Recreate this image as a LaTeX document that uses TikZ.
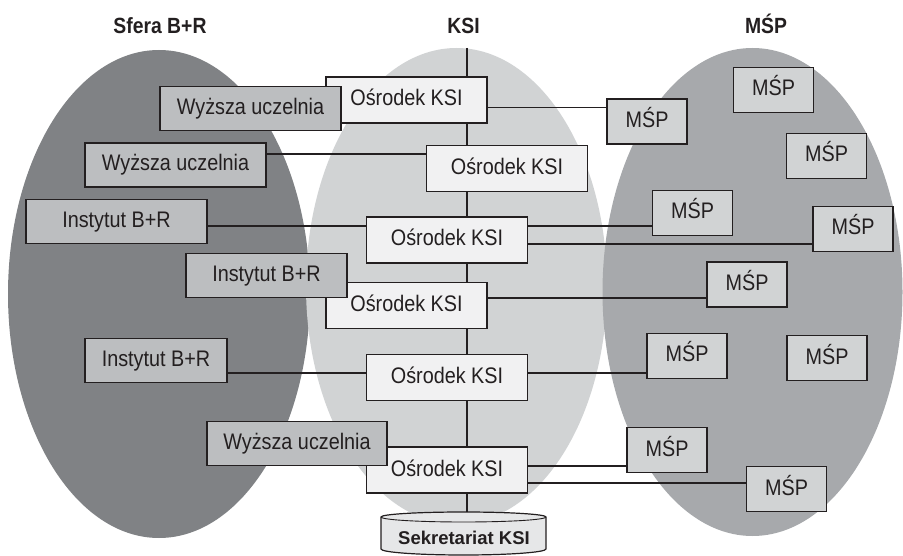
\documentclass[tikz,border=0pt]{standalone}
\usepackage{fontspec}
\setmainfont{Liberation Sans}
\newfontfamily\narrowfont[FakeStretch=0.88]{Liberation Sans}
\newcommand\cellfont{\narrowfont\fontsize{22.5}{27}\selectfont}
\newcommand\headfont{\narrowfont\bfseries\fontsize{22}{26}\selectfont}

\definecolor{linec}{HTML}{231F20}
\definecolor{brarea}{HTML}{808285}
\definecolor{ksiarea}{HTML}{D1D3D4}
\definecolor{msparea}{HTML}{A7A9AC}
\definecolor{brfill}{HTML}{BCBEC0}
\definecolor{mspfill}{HTML}{D1D3D4}
\definecolor{ksifill}{HTML}{F1F1F2}
\definecolor{cylfill}{HTML}{E6E7E8}

\tikzset{
  cell/.style={draw=linec, line width=1.2pt, rectangle, inner sep=0pt,
    text height=16pt, text depth=4pt, font=\cellfont, text=linec},
  ksibox/.style={cell, fill=ksifill, minimum width=161pt, minimum height=46pt},
  brbox/.style={cell, fill=brfill, minimum height=44pt},
  mspbox/.style={cell, fill=mspfill, minimum width=80pt, minimum height=45pt},
  link/.style={draw=linec, line width=1.1pt},
  heading/.style={anchor=base, font=\headfont, text=linec, inner sep=0pt},
}

\begin{document}
\begin{tikzpicture}[x=1pt, y=-1pt]
\useasboundingbox (0,0) rectangle (903,556);

% three areas
\fill[brarea]  (159,294)   ellipse [x radius=151pt,   y radius=244pt];
\fill[ksiarea] (456.5,286) ellipse [x radius=150.5pt, y radius=238pt];
\fill[msparea] (752.5,292) ellipse [x radius=150pt,   y radius=244pt];

% headings
\node[heading] (hbr)  at (160,34)   {Sfera B+R};
\node[heading] (hksi) at (463.5,34) {KSI};
\node[heading] (hmsp) at (766,34)   {MŚP};

% KSI backbone
\coordinate (ksitop) at (467,48);
\coordinate (cyltop) at (467,512);
\draw[link] (ksitop) -- (cyltop);

% KSI centres
\node[ksibox] (o1) at (406.5,100)   {Ośrodek KSI};
\node[ksibox] (o2) at (507,168.5)   {Ośrodek KSI};
\node[ksibox] (o3) at (447,240)     {Ośrodek KSI};
\node[ksibox] (o4) at (406.5,305.5) {Ośrodek KSI};
\node[ksibox] (o5) at (447,377.5)   {Ośrodek KSI};
\node[ksibox] (o6) at (447,470)     {Ośrodek KSI};

% R&D sphere
\node[brbox, minimum width=181pt] (w1) at (250.5,108.5) {Wyższa uczelnia};
\node[brbox, minimum width=181pt] (w2) at (175.5,165)   {Wyższa uczelnia};
\node[brbox, minimum width=181pt] (i1) at (116.5,221.5) {Instytut B+R};
\node[brbox, minimum width=161pt] (i2) at (266.5,275.5) {Instytut B+R};
\node[brbox, minimum width=142pt] (i3) at (156,360.5)   {Instytut B+R};
\node[brbox, minimum width=180pt] (w3) at (297,443.5)   {Wyższa uczelnia};

% SMEs
\node[mspbox] (mA) at (647,121.5) {MŚP};
\node[mspbox] (mB) at (773.5,90)  {MŚP};
\node[mspbox] (mC) at (826.5,156) {MŚP};
\node[mspbox] (mD) at (692.5,213) {MŚP};
\node[mspbox] (mE) at (853,229)   {MŚP};
\node[mspbox] (mF) at (747,284.5) {MŚP};
\node[mspbox] (mG) at (687,356)   {MŚP};
\node[mspbox] (mH) at (827,358)   {MŚP};
\node[mspbox] (mI) at (667,450)   {MŚP};
\node[mspbox] (mJ) at (786.5,489) {MŚP};

% links
\draw[link] (o1.east |- 0,107.5) -- (mA.west |- 0,107.5);
\draw[link] (w2.east |- 0,154)   -- (o2.west |- 0,154);
\draw[link] (i1.east |- 0,226)   -- (o3.west |- 0,226);
\draw[link] (o3.east |- 0,226)   -- (mD.west |- 0,226);
\draw[link] (o3.east |- 0,244)   -- (mE.west |- 0,244);
\draw[link] (o4.east |- 0,298)   -- (mF.west |- 0,298);
\draw[link] (i3.east |- 0,373)   -- (o5.west |- 0,373);
\draw[link] (o5.east |- 0,373)   -- (mG.west |- 0,373);
\draw[link] (o6.east |- 0,466)   -- (mI.west |- 0,466);
\draw[link] (o6.east |- 0,483)   -- (mJ.west |- 0,483);

% secretariat drum
\filldraw[fill=cylfill, draw=linec, line width=1.2pt]
  (381,517) -- (381,549)
  arc[start angle=180, end angle=360, x radius=82.5pt, y radius=6pt]
  -- (546,517)
  arc[start angle=0, end angle=180, x radius=82.5pt, y radius=5pt] -- cycle;
\draw[draw=linec, line width=0.9pt]
  (381,517) arc[start angle=180, end angle=360, x radius=82.5pt, y radius=5pt];
\node[anchor=base, inner sep=0pt, text=linec,
      font=\bfseries\fontsize{18.5}{22}\selectfont] (sek) at (464,544) {Sekretariat KSI};
\end{tikzpicture}
\end{document}
